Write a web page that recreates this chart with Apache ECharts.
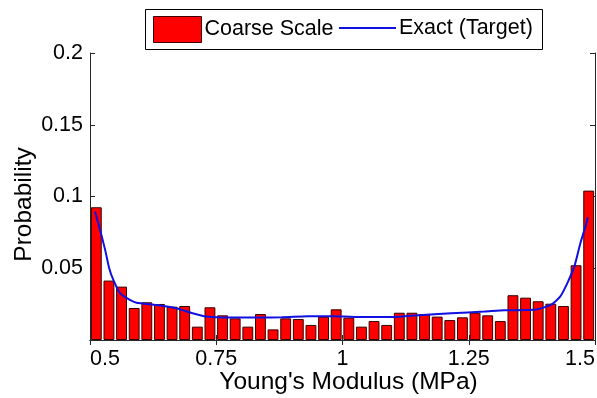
<!DOCTYPE html>
<html>
<head>
<meta charset="utf-8">
<script src="https://cdn.jsdelivr.net/npm/echarts@6/dist/echarts.min.js"></script>
<style>
  html, body { margin: 0; padding: 0; background: #fff; }
  #chart { width: 597px; height: 398px; }
</style>
</head>
<body>
<div id="chart"></div>
<script>
// Histogram bin centres (MPa), bin width 0.025
const binCenters = [
  0.5125, 0.5375, 0.5625, 0.5875, 0.6125, 0.6375, 0.6625, 0.6875, 0.7125, 0.7375,
  0.7625, 0.7875, 0.8125, 0.8375, 0.8625, 0.8875, 0.9125, 0.9375, 0.9625, 0.9875,
  1.0125, 1.0375, 1.0625, 1.0875, 1.1125, 1.1375, 1.1625, 1.1875, 1.2125, 1.2375,
  1.2625, 1.2875, 1.3125, 1.3375, 1.3625, 1.3875, 1.4125, 1.4375, 1.4625, 1.4875
];

// Coarse-scale probability per bin
const coarseProb = [
  0.0925, 0.0414, 0.0372, 0.0223, 0.0263, 0.0251, 0.0232, 0.0237, 0.0093, 0.0228,
  0.0172, 0.0151, 0.0093, 0.0181, 0.0074, 0.0151, 0.0146, 0.0105, 0.0163, 0.0214,
  0.0156, 0.0093, 0.0132, 0.0105, 0.0190, 0.0190, 0.0181, 0.0163, 0.0139, 0.0158,
  0.0190, 0.0172, 0.0132, 0.0312, 0.0295, 0.0270, 0.0253, 0.0237, 0.0521, 0.1041
];

// Exact (target) density curve
const exactX = [
  0.510, 0.520, 0.530, 0.538, 0.546, 0.559, 0.579, 0.592, 0.632, 0.671,
  0.703, 0.730, 0.776, 0.835, 0.880, 0.930, 0.980, 1.030, 1.100, 1.150,
  1.215, 1.281, 1.321, 1.380, 1.412, 1.431, 1.445, 1.459, 1.471, 1.481, 1.486
];
const exactY = [
  0.0895, 0.0767, 0.0628, 0.0500, 0.0420, 0.0328, 0.0279, 0.0260, 0.0244, 0.0221,
  0.0186, 0.0163, 0.0156, 0.0156, 0.0158, 0.0165, 0.0166, 0.0160, 0.0160, 0.0172,
  0.0186, 0.0198, 0.0207, 0.0210, 0.0244, 0.0302, 0.0395, 0.0511, 0.0674, 0.0790, 0.0856
];

// Axis ticks
const xTicks = { min: 0.5, max: 1.5, step: 0.25 };
const yTicks = { min: 0, max: 0.2, step: 0.05 };

const FONT = '"Liberation Sans", Arial, sans-serif';
const AXIS_COLOR = '#262626';
const BAR_FILL = '#ff0000';
const BAR_EDGE = '#3a0000';
const LINE_COLOR = '#1010e0';
const TICK_FONT = 21.5;
const TITLE_FONT = 24.5;

const chart = echarts.init(document.getElementById('chart'), null, { renderer: 'canvas' });

const frameAxis = {
  axisLine: { show: true, lineStyle: { color: AXIS_COLOR, width: 1 } },
  axisTick: { show: true, inside: true, length: 5, lineStyle: { color: AXIS_COLOR } },
  splitLine: { show: false }
};

const legendText = { fontFamily: FONT, fontSize: TICK_FONT, color: '#000', padding: [0, 0, 0, -2] };

chart.setOption({
  animation: false,
  backgroundColor: '#ffffff',
  grid: {
    left: 90, right: 2, top: 53, bottom: 58,
    containLabel: false,
    outerBoundsMode: 'none'
  },
  graphic: [{
    type: 'rect',
    left: 145, top: 9,
    shape: { width: 397, height: 40 },
    style: { fill: '#ffffff', stroke: '#000000', lineWidth: 1 },
    z: 1
  }],
  legend: [{
    data: [{ name: 'Coarse Scale', icon: 'rect' }],
    left: 153, top: 16,
    itemWidth: 48, itemHeight: 26, itemGap: 0,
    padding: 0,
    itemStyle: { color: BAR_FILL, borderColor: BAR_EDGE, borderWidth: 1 },
    textStyle: legendText,
    z: 5
  }, {
    data: [{ name: 'Exact (Target)', icon: 'rect' }],
    left: 339, top: 17,
    itemWidth: 57, itemHeight: 2, itemGap: 0,
    padding: 0,
    itemStyle: { color: LINE_COLOR, borderWidth: 0 },
    textStyle: legendText,
    z: 5
  }],
  xAxis: [{
    type: 'value',
    min: xTicks.min, max: xTicks.max, interval: xTicks.step,
    position: 'bottom',
    name: "Young's Modulus (MPa)",
    nameLocation: 'middle',
    nameGap: 30,
    nameMoveOverlap: false,
    nameTextStyle: { fontFamily: FONT, fontSize: TITLE_FONT, color: '#000', padding: [0, 0, 0, 12] },
    axisLabel: {
      fontFamily: FONT, fontSize: TICK_FONT, color: '#000', margin: 8,
      alignMinLabel: 'left', alignMaxLabel: 'right'
    },
    ...frameAxis
  }, {
    type: 'value',
    min: xTicks.min, max: xTicks.max, interval: xTicks.step,
    position: 'top',
    axisLabel: { show: false },
    ...frameAxis
  }],
  yAxis: [{
    type: 'value',
    min: yTicks.min, max: yTicks.max, interval: yTicks.step,
    position: 'left',
    name: 'Probability',
    nameLocation: 'middle',
    nameGap: 53,
    nameMoveOverlap: false,
    nameTextStyle: { fontFamily: FONT, fontSize: TITLE_FONT, color: '#000', padding: [0, 16, 0, 0] },
    axisLabel: { fontFamily: FONT, fontSize: TICK_FONT, color: '#000', margin: 7, showMinLabel: false },
    ...frameAxis
  }, {
    type: 'value',
    min: yTicks.min, max: yTicks.max, interval: yTicks.step,
    position: 'right',
    axisLabel: { show: false },
    ...frameAxis
  }],
  series: [{
    name: 'Coarse Scale',
    type: 'bar',
    xAxisIndex: 0, yAxisIndex: 0,
    barWidth: '86%',
    itemStyle: { color: BAR_FILL, borderColor: BAR_EDGE, borderWidth: 1 },
    data: binCenters.map((x, i) => [x, coarseProb[i]])
  }, {
    name: 'Exact (Target)',
    type: 'line',
    xAxisIndex: 0, yAxisIndex: 0,
    smooth: 0.2,
    symbol: 'none',
    lineStyle: { color: LINE_COLOR, width: 2 },
    itemStyle: { color: LINE_COLOR },
    data: exactX.map((x, i) => [x, exactY[i]]),
    z: 3
  }]
});
</script>
</body>
</html>
